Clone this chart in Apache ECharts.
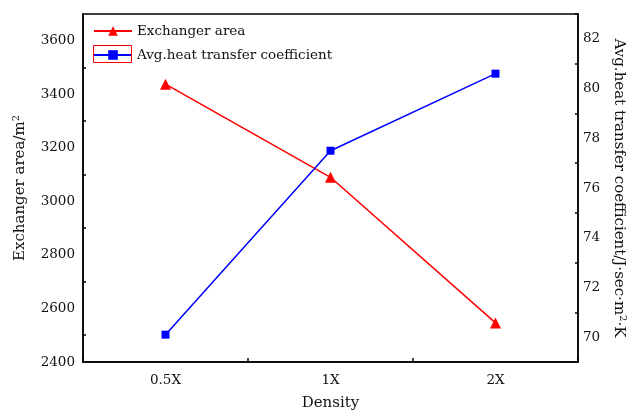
<!DOCTYPE html>
<html>
<head>
<meta charset="utf-8">
<script src="https://cdn.jsdelivr.net/npm/echarts@6/dist/echarts.min.js"></script>
<style>
  html, body { margin: 0; padding: 0; background: #fff; }
  #chart { width: 632px; height: 411px; }
</style>
</head>
<body>
<div id="chart"></div>
<script>
var densities = ['0.5X', '1X', '2X'];
var exchangerArea = [3438, 3090, 2546];
var heatCoeff = [70.1, 77.5, 80.6];
var coeffMajor = [70, 72, 74, 76, 78, 80, 82];
var coeffMinor = [71, 73, 75, 77, 79, 81, 83];

var font = 'DejaVu Serif';
var ink = '#111';
var tickLine = { color: '#000', width: 1.5 };
var hiddenLine = { show: true, lineStyle: { color: '#000', width: 1.5, opacity: 0 } };

var chart = echarts.init(document.getElementById('chart'), null, { renderer: 'canvas' });
chart.setOption({
  animation: false,
  textStyle: { fontFamily: font, color: ink },
  grid: {
    left: 83, right: 54, top: 14, bottom: 49,
    outerBoundsMode: 'none', containLabel: false,
    show: true, borderColor: '#000', borderWidth: 1.5
  },
  legend: {
    orient: 'vertical',
    left: 93, top: 24, padding: 0,
    itemWidth: 38, itemHeight: 12, itemGap: 10,
    textStyle: { fontFamily: font, fontSize: 13.5, color: ink },
    data: ['Exchanger area', 'Avg.heat transfer coefficient']
  },
  graphic: [{
    type: 'rect', z: 100,
    shape: { x: 93.5, y: 45.5, width: 38, height: 17 },
    style: { fill: 'none', stroke: '#ff0000', lineWidth: 1 }
  }],
  xAxis: [{
    type: 'category', data: densities,
    name: 'Density', nameLocation: 'middle', nameGap: 34,
    nameTextStyle: { fontFamily: font, fontSize: 15, color: ink },
    axisLine: { lineStyle: { color: '#000', width: 1.5 } },
    axisTick: { alignWithLabel: true, inside: true, length: 7, lineStyle: tickLine },
    axisLabel: { fontFamily: font, fontSize: 13.5, color: ink, margin: 11 }
  }, {
    type: 'category', data: densities, position: 'bottom',
    axisLine: hiddenLine,
    axisTick: { show: true, inside: true, length: 4, lineStyle: tickLine },
    axisLabel: { show: false }
  }],
  yAxis: [{
    type: 'value', min: 2400, max: 3700, interval: 200,
    name: 'Exchanger area/m{sup|2}', nameLocation: 'middle', nameGap: 54,
    nameTextStyle: { fontFamily: font, fontSize: 15, color: ink,
      rich: { sup: { fontFamily: font, fontSize: 10, verticalAlign: 'top', padding: [0, 0, 8, 0] } } },
    axisLine: { show: true, lineStyle: { color: '#000', width: 1.5 } },
    axisTick: { inside: true, length: 5, lineStyle: tickLine },
    minorTick: { show: true, splitNumber: 2, length: 3, lineStyle: tickLine },
    axisLabel: { fontFamily: font, fontSize: 13.5, color: ink, margin: 8, showMaxLabel: false,
      formatter: function(v) { return String(v); } },
    splitLine: { show: false }
  }, {
    type: 'value', min: 69, max: 83, position: 'right',
    name: 'Avg.heat transfer coefficient/J·sec·m{sup|2}·K', nameLocation: 'middle', nameGap: 30,
    nameRotate: -90,
    nameTextStyle: { fontFamily: font, fontSize: 15, color: ink,
      rich: { sup: { fontFamily: font, fontSize: 10, verticalAlign: 'top', padding: [0, 0, 8, 0] } } },
    axisLine: { show: true, lineStyle: { color: '#000', width: 1.5 } },
    axisTick: { inside: true, length: 5, customValues: coeffMajor, lineStyle: tickLine },
    axisLabel: { fontFamily: font, fontSize: 13.5, color: ink, margin: 5, customValues: coeffMajor },
    splitLine: { show: false }
  }, {
    type: 'value', min: 69, max: 83, position: 'right',
    axisLine: hiddenLine,
    axisTick: { show: true, inside: true, length: 3, customValues: coeffMinor, lineStyle: tickLine },
    axisLabel: { show: false, customValues: coeffMinor },
    splitLine: { show: false }
  }],
  series: [{
    name: 'Exchanger area', type: 'line', data: exchangerArea,
    xAxisIndex: 0, yAxisIndex: 0,
    symbol: 'triangle', symbolSize: 11,
    lineStyle: { color: '#ff0000', width: 1.5 },
    itemStyle: { color: '#ff0000' }
  }, {
    name: 'Avg.heat transfer coefficient', type: 'line', data: heatCoeff,
    xAxisIndex: 0, yAxisIndex: 1,
    symbol: 'rect', symbolSize: 8,
    lineStyle: { color: '#0000ff', width: 1.5 },
    itemStyle: { color: '#0000ff' }
  }]
});
window.addEventListener('resize', function() { chart.resize(); });
</script>
</body>
</html>
